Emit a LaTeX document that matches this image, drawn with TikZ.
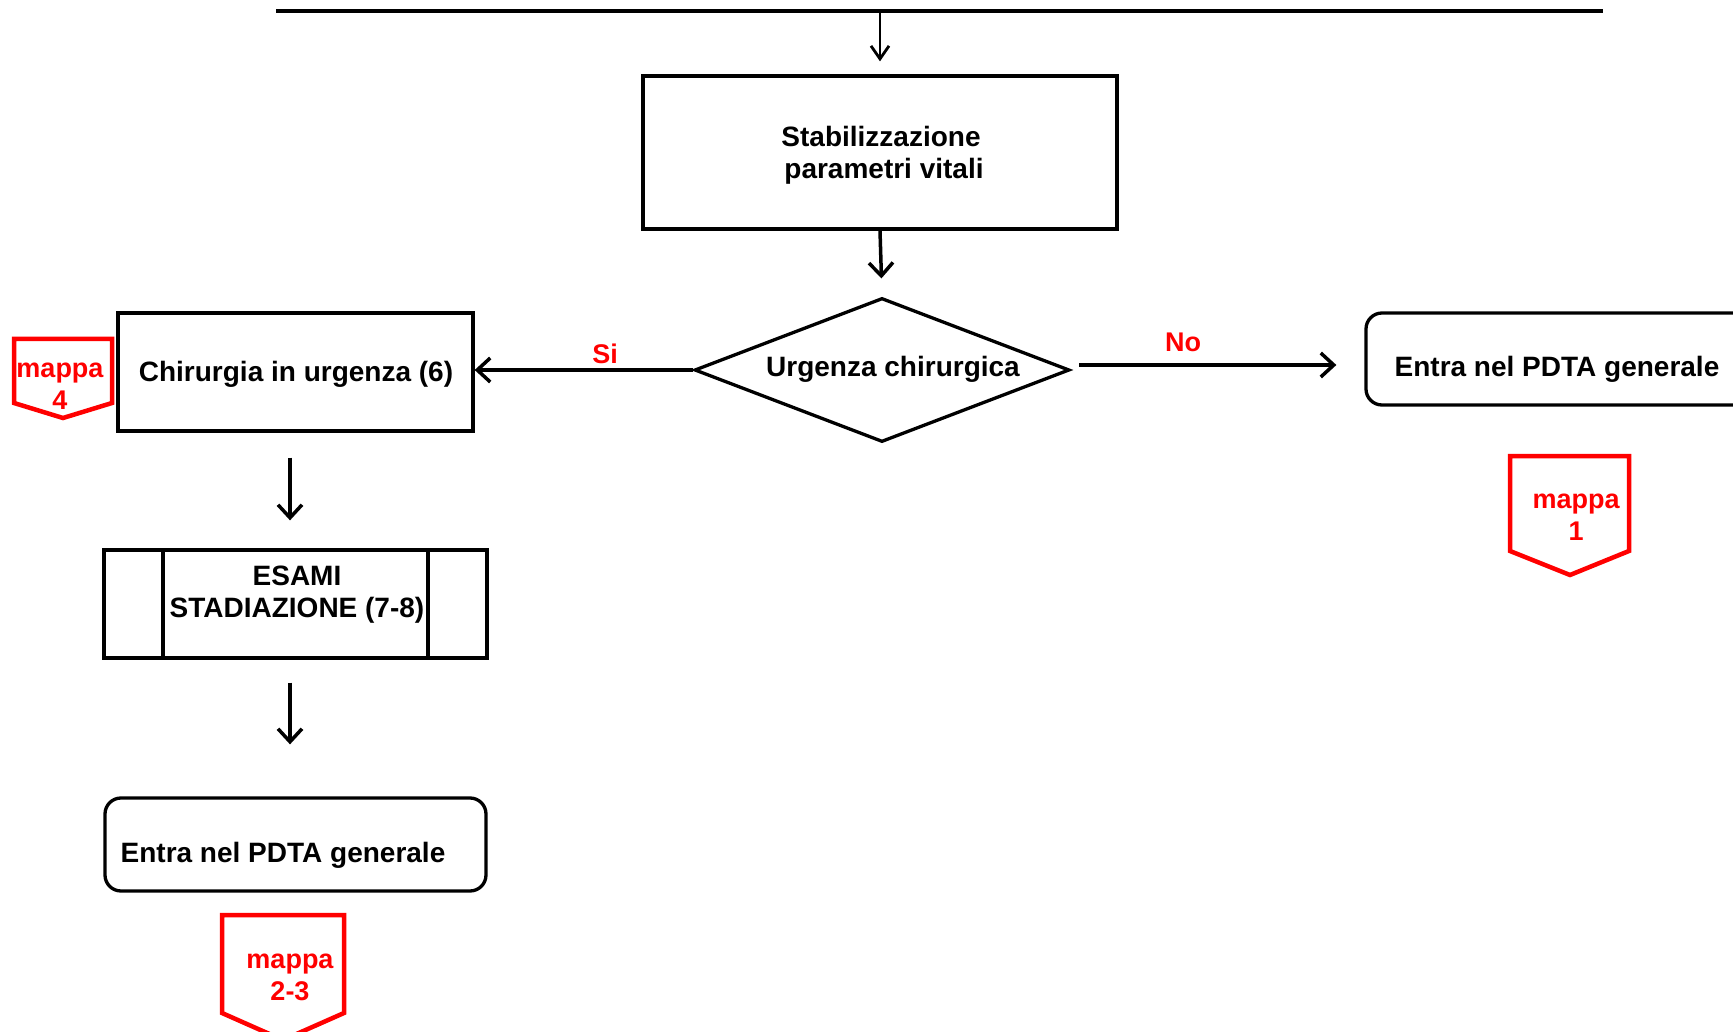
\documentclass[tikz,border=0pt]{standalone}
\usepackage{fontspec}
\setmainfont{Liberation Sans}
\usetikzlibrary{arrows.meta,shapes.geometric}
\definecolor{mapred}{RGB}{255,0,0}
\begin{document}
\begin{tikzpicture}[x=1pt,y=-1pt,
  font=\fontsize{28}{32}\selectfont\bfseries,
  box/.style={draw, line width=3.3pt, inner sep=0pt},
  rbox/.style={box, rounded corners=16pt},
  txt/.style={inner sep=0pt, align=center},
  conn/.style={line width=3.5pt, -{Straight Barb[length=13pt,width=24pt]}},
  redlbl/.style={txt, text=mapred, font=\fontsize{27}{32}\selectfont\bfseries},
  mapshape/.style={draw=mapred, line width=4.5pt, line join=miter},
]
\useasboundingbox (0,0) rectangle (1733,1032);
\clip (0,0) rectangle (1733,1032);

% incoming bar and its branch
\coordinate (barL) at (276,11);
\coordinate (barR) at (1603,11);
\coordinate (barM) at (880,11);
\draw[line width=3.5pt] (barL) -- (barR);

% process boxes
\node[box, minimum width=474pt, minimum height=153pt] (stab) at (880,152.5) {};
\node[txt] (stabtxt) at (881,155) {Stabilizzazione\\\hspace*{6pt}parametri vitali};

\node[diamond, draw, line width=3.3pt, minimum width=375pt, minimum height=144pt, inner sep=0pt] (dec) at (882,370) {};
\node[txt] (dectxt) at (893,369) {Urgenza chirurgica};

\node[box, minimum width=355pt, minimum height=118pt] (chir) at (295.5,372) {};
\node[txt] (chirtxt) at (296,374) {Chirurgia in urgenza (6)};

\node[rbox, minimum width=394pt, minimum height=92pt] (pdtaR) at (1563,359) {};
\node[txt] (pdtaRtxt) at (1557,369) {Entra nel PDTA generale};

\node[box, minimum width=383pt, minimum height=108pt] (esami) at (295.5,604) {};
\draw[line width=3.3pt] (163,550) -- (163,658) (428,550) -- (428,658);
\node[txt] (esamitxt) at (297,595) {ESAMI\\STADIAZIONE (7-8)};

\node[rbox, minimum width=381pt, minimum height=93pt] (pdtaL) at (295.5,844.5) {};
\node[txt] (pdtaLtxt) at (283,855) {Entra nel PDTA generale};

% connectors
\draw[line width=2.8pt, -{Straight Barb[length=13pt,width=18pt]}, shorten >=13pt] (barM) -- (stab.north);
\draw[conn, shorten >=18pt] (stab.south) -- (dec.north);
\draw[conn] (dec.west) -- (dec.west -| chir.east);
\draw[conn] ([xshift=8pt,yshift=5pt]dec.east) -- ([xshift=-28pt,yshift=-6pt]pdtaR.west);
\draw[conn, shorten <=25pt, shorten >=28pt] ([xshift=-5.5pt]chir.south) -- ([xshift=-5.5pt]esami.north);
\draw[conn, shorten <=23pt, shorten >=52pt] ([xshift=-5.5pt]esami.south) -- ([xshift=-5.5pt]pdtaL.north);

% branch labels
\node[redlbl] (si) at (605,354) {Si};
\node[redlbl] (no) at (1183,342) {No};

% off-page references
\draw[mapshape] (14,339) -- (112,339) -- (112,403) -- (63,418) -- (14,403) -- cycle;
\node[redlbl] (map4) at (60,386) {mappa\\4};

\draw[mapshape] (1510,456) -- (1629,456) -- (1629,551) -- (1570,575) -- (1510,551) -- cycle;
\node[redlbl] (map1) at (1576,517) {mappa\\1};

\draw[mapshape] (222,915) -- (344,915) -- (344,1013) -- (283,1040) -- (222,1013) -- cycle;
\node[redlbl] (map23) at (290,977) {mappa\\2-3};
\end{tikzpicture}
\end{document}
